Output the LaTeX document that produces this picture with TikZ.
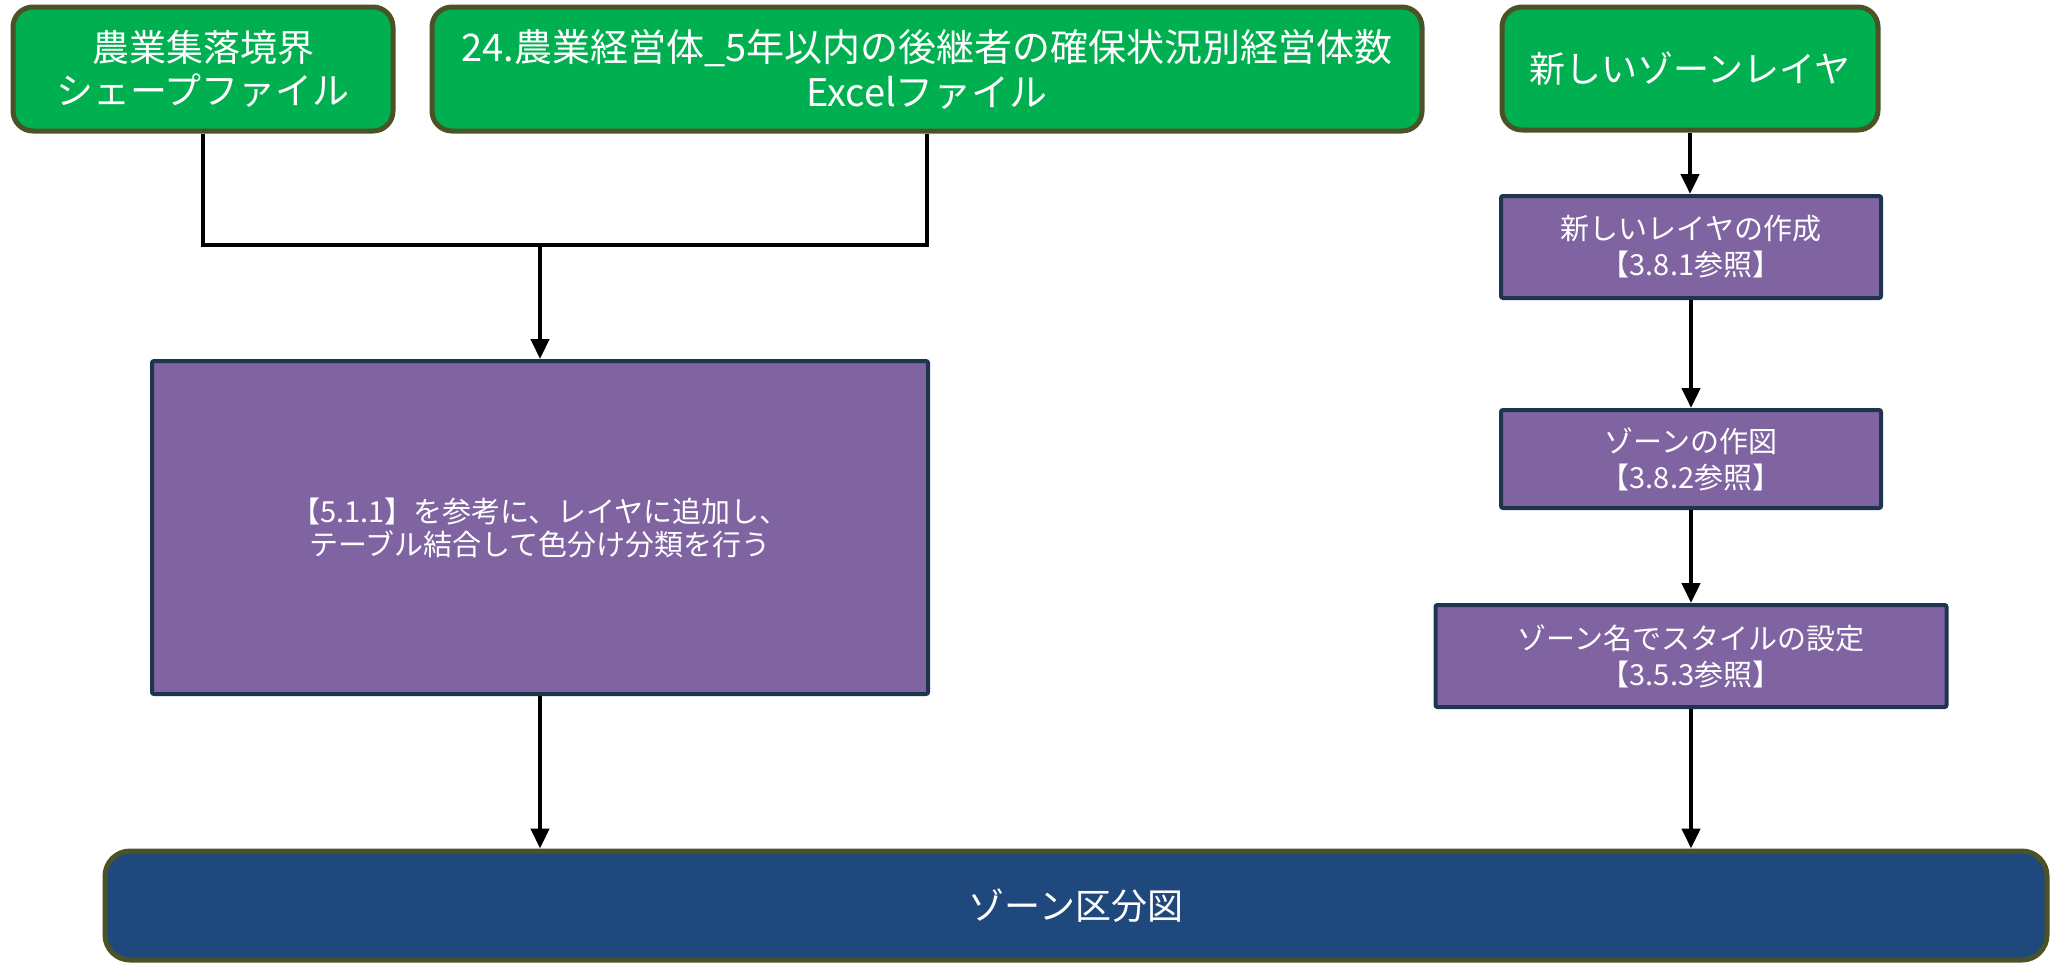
\documentclass[tikz,border=0pt]{standalone}
\usepackage{fontspec}
\newfontfamily\jp{Noto Sans CJK JP}
\usetikzlibrary{arrows.meta}
\definecolor{grfill}{HTML}{00B050}
\definecolor{olive}{HTML}{4A5326}
\definecolor{pufill}{HTML}{8064A2}
\definecolor{navy}{HTML}{1F344F}
\definecolor{blfill}{HTML}{1F497D}
\tikzset{
  greenbox/.style={draw=olive, fill=grfill, line width=5pt, rounded corners=20pt,
    text=white, align=center, inner sep=0pt, font=\jp\fontsize{37}{43}\selectfont},
  purplebox/.style={draw=navy, fill=pufill, line width=4pt, rounded corners=2pt,
    text=white, align=center, inner sep=0pt, font=\jp\fontsize{29}{36}\selectfont},
  bluebox/.style={draw=olive, fill=blfill, line width=5pt, rounded corners=25pt,
    text=white, align=center, inner sep=0pt, font=\jp\fontsize{36}{43}\selectfont},
  conn/.style={line width=4.5pt, draw=black},
  arr/.style={conn, -{Triangle[width=18pt,length=20pt]}}
}
\begin{document}
\begin{tikzpicture}[x=1pt,y=-1pt]
\useasboundingbox (0,0) rectangle (2052,964);
\node[greenbox, minimum width=380pt, minimum height=124pt] (a) at (203,69) {農業集落境界\\シェープファイル};
\node[greenbox, minimum width=990pt, minimum height=124pt, font=\jp\fontsize{38}{45}\selectfont] (b) at (927,69) {24.農業経営体\_5年以内の後継者の確保状況別経営体数\\Excelファイル};
\node[greenbox, minimum width=376pt, minimum height=123pt, font=\jp\fontsize{36}{43}\selectfont] (c) at (1690,68.5) {新しいゾーンレイヤ};
\node[purplebox, minimum width=380pt, minimum height=102pt] (p1) at (1691,247) {新しいレイヤの作成\\【3.8.1参照】};
\node[purplebox, minimum width=380pt, minimum height=98pt] (p2) at (1691,459) {ゾーンの作図\\【3.8.2参照】};
\node[purplebox, minimum width=511pt, minimum height=102pt] (p3) at (1691,656) {ゾーン名でスタイルの設定\\【3.5.3参照】};
\node[purplebox, minimum width=776pt, minimum height=333pt, font=\jp\fontsize{29}{33}\selectfont] (m) at (540,527.5) {【5.1.1】を参考に、レイヤに追加し、\\テーブル結合して色分け分類を行う};
\node[bluebox, minimum width=1942pt, minimum height=109pt] (z) at (1076,905.5) {ゾーン区分図};
\coordinate (j) at (540,245);
\draw[conn] (a.south) |- (j) -| (b.south);
\draw[arr] (j) -- (m.north);
\draw[arr] (m.south) -- (m.south |- z.north);
\draw[arr] (c.south) -- (c.south |- p1.north);
\draw[arr] (p1.south) -- (p2.north);
\draw[arr] (p2.south) -- (p3.north);
\draw[arr] (p3.south) -- (p3.south |- z.north);
\end{tikzpicture}
\end{document}
